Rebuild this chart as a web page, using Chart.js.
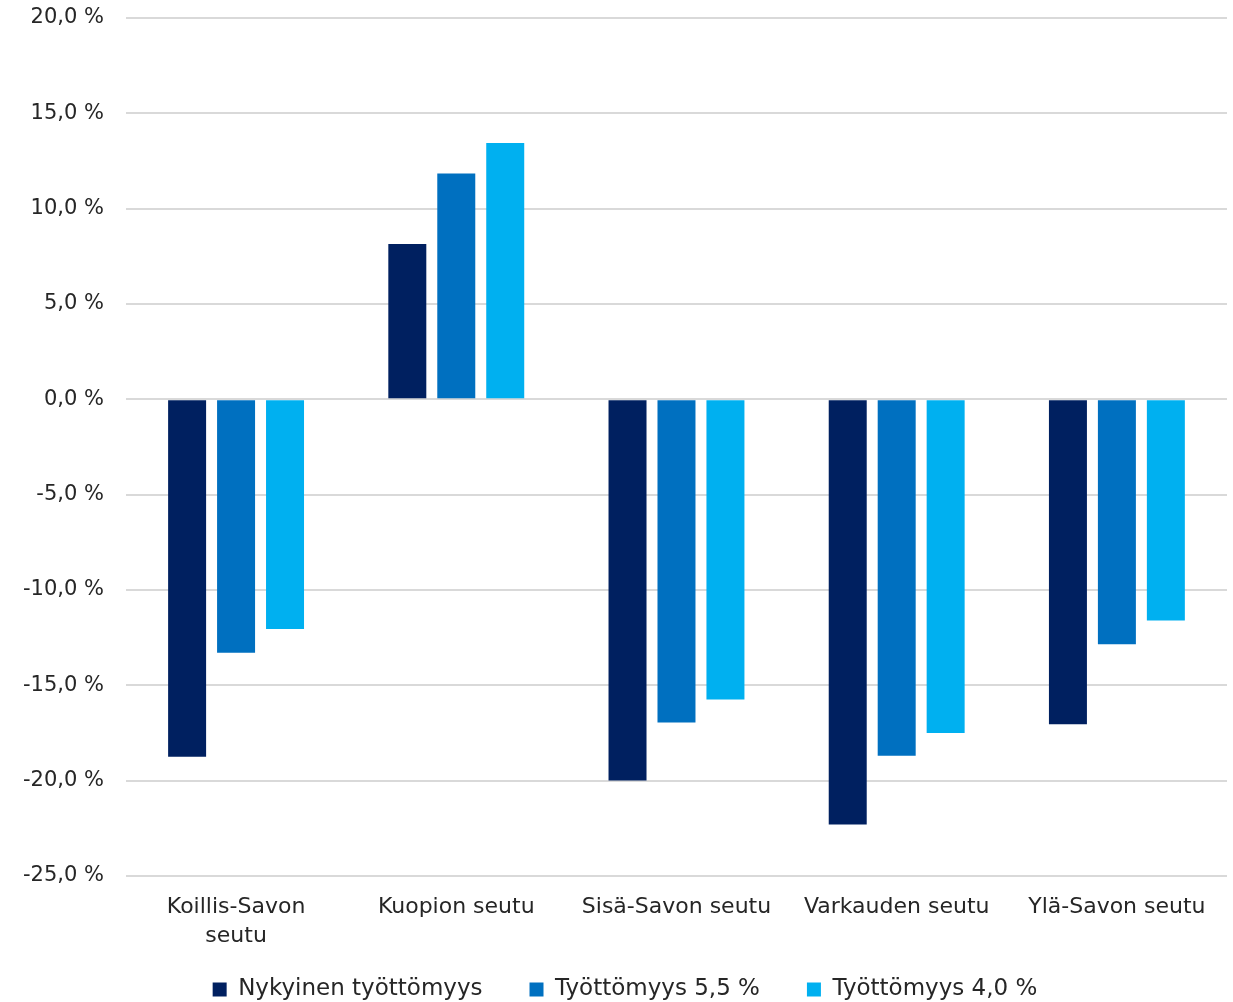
<!DOCTYPE html>
<html>
<head>
<meta charset="utf-8">
<script src="https://cdn.jsdelivr.net/npm/chart.js@4"></script>
<style>
  html, body { margin: 0; padding: 0; background: #fff; }
  #wrap { width: 1233px; height: 1002px; }
</style>
</head>
<body>
<div id="wrap"><canvas id="chart"></canvas></div>
<script>
const regions = [['Koillis-Savon', 'seutu'], 'Kuopion seutu', 'Sisä-Savon seutu', 'Varkauden seutu', 'Ylä-Savon seutu'];
const current = [-18.75, 8.15, -20.0, -22.3, -17.05];
const unemp55 = [-13.3, 11.85, -16.95, -18.7, -12.85];
const unemp40 = [-12.05, 13.45, -15.75, -17.5, -11.6];

const ctx = document.querySelector('#chart').getContext('2d');
const font = 'DejaVu Sans';

new Chart(ctx, {
  type: 'bar',
  data: {
    labels: regions,
    datasets: [
      { label: 'Nykyinen työttömyys', data: current, backgroundColor: '#002060' },
      { label: 'Työttömyys 5,5 %', data: unemp55, backgroundColor: '#0070C0' },
      { label: 'Työttömyys 4,0 %', data: unemp40, backgroundColor: '#00B0F0' }
    ]
  },
  options: {
    responsive: true,
    maintainAspectRatio: false,
    animation: false,
    categoryPercentage: 0.667,
    barPercentage: 0.776,
    layout: { padding: { top: 18, right: 6, left: 23, bottom: -9 } },
    plugins: {
      tooltip: { enabled: false },
      legend: {
        position: 'bottom',
        labels: {
          boxWidth: 14,
          boxHeight: 14,
          padding: 47,
          color: '#262626',
          font: { family: font, size: 23 }
        }
      }
    },
    scales: {
      x: {
        grid: { display: false },
        border: { display: false },
        // pull the legend closer; let the 2nd label line spill past the axis box
        afterFit: scale => {
          scale.height -= 29;
          scale._computeLabelArea = () => null;
        },
        ticks: {
          color: '#262626',
          padding: 9,
          maxRotation: 0,
          autoSkip: false,
          font: { family: font, size: 22, lineHeight: 1.32 }
        }
      },
      y: {
        min: -25,
        max: 20,
        grid: { color: '#d9d9d9', lineWidth: 2, tickColor: 'rgba(0,0,0,0)', tickLength: 22 },
        border: { display: false },
        ticks: {
          stepSize: 5,
          padding: 0,
          color: '#262626',
          font: { family: font, size: 21 },
          callback: v => v.toFixed(1).replace('.', ',') + ' %'
        }
      }
    }
  }
});
</script>
</body>
</html>
